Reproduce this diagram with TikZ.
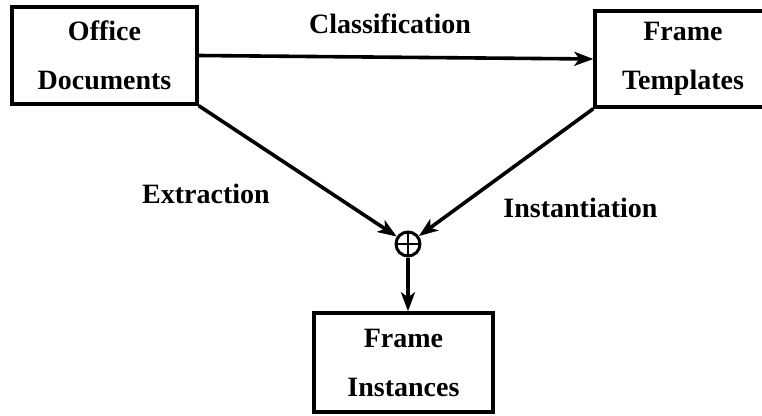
\documentclass[tikz,border=0pt]{standalone}
\usepackage{fontspec}
\setmainfont{Liberation Serif}
\usetikzlibrary{arrows.meta}
\begin{document}
\begin{tikzpicture}[x=1pt,y=-1pt,
  every node/.style={font=\fontsize{28}{49}\selectfont\bfseries},
  box/.style={draw, line width=3.4pt, rectangle, inner sep=0pt, align=center},
  mergept/.style={draw, circle, line width=3pt, minimum size=24pt, inner sep=0pt,
    path picture={\draw[line width=2.6pt]
      (path picture bounding box.north) -- (path picture bounding box.south)
      (path picture bounding box.west) -- (path picture bounding box.east);}},
  flow/.style={line width=3.6pt, -{Stealth[length=19pt, width=14pt, inset=5pt]}},
  lbl/.style={anchor=base, inner sep=0pt}]
\useasboundingbox (0,0) rectangle (762,415);

% the three boxes
\node[box, minimum width=185pt, minimum height=97pt] (od) at (104.5,55.5) {Office\\Documents};
\node[box, minimum width=176pt, minimum height=96pt] (ft) at (683,59) {Frame\\Templates};
\node[box, minimum width=179pt, minimum height=99pt] (fi) at (403.5,362.5) {Frame\\Instances};

% combining point
\node[mergept] (c) at (408,244) {};

% connectors
\draw[flow] (od.east) -- (ft.west);
\draw[flow] (od.south east) -- (c);
\draw[flow] (ft.south west) -- (c);
\draw[flow] (c.south) -- (c.south |- fi.north);

% labels
\node[lbl] (lc) at (390,33) {Classification};
\node[lbl] (le) at (206,203) {Extraction};
\node[lbl] (li) at (580.5,217) {Instantiation};
\end{tikzpicture}
\end{document}
